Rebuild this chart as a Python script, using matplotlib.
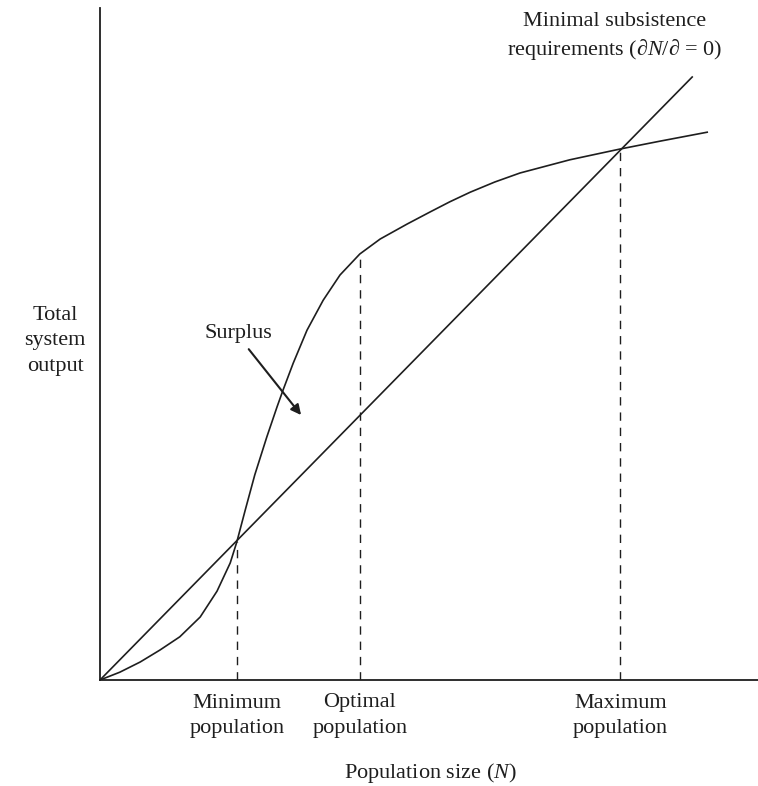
import matplotlib.pyplot as plt

plt.rcParams['font.family'] = ['Liberation Serif', 'DejaVu Serif']
plt.rcParams['mathtext.fontset'] = 'custom'
plt.rcParams['mathtext.rm'] = 'Liberation Serif'
plt.rcParams['mathtext.it'] = 'Liberation Serif:italic'

# curve: total system output vs population size
pop = [0.0, 0.33, 0.67, 1.0, 1.33, 1.67, 1.95, 2.17, 2.28, 2.42, 2.58, 2.78,
       2.95, 3.05, 3.22, 3.45, 3.72, 4.0, 4.33, 4.67, 5.12, 5.5, 5.83, 6.17,
       6.58, 7.0, 7.83, 8.67, 9.33, 10.12]
output = [0.0, 0.13, 0.3, 0.5, 0.72, 1.05, 1.48, 1.95, 2.3, 2.83, 3.42, 4.05,
          4.55, 4.83, 5.28, 5.83, 6.33, 6.75, 7.1, 7.35, 7.6, 7.8, 7.97, 8.13,
          8.3, 8.45, 8.67, 8.85, 8.98, 9.13]

# minimal subsistence requirement line
req_x = [0.0, 9.87]
req_y = [0.0, 10.05]

# marked populations
mark_x = [2.28, 4.33, 8.67]
mark_y = [2.3, 7.1, 8.85]
mark_labels = ["Minimum\npopulation", "Optimal\npopulation", "Maximum\npopulation"]

ink = "#1e1e1e"
fs = 16

fig = plt.figure(figsize=(7.58, 7.86), dpi=100)
ax = fig.add_axes([100 / 758, 106 / 786, 658 / 758, 672 / 786])
ax.set_xlim(0, 658 / 60)
ax.set_ylim(0, 672 / 60)

ax.plot(pop, output, color=ink, lw=1.2, solid_joinstyle="round")
ax.plot(req_x, req_y, color=ink, lw=1.2)

for x, y, lab in zip(mark_x, mark_y, mark_labels):
    ax.plot([x, x], [0, y], color=ink, lw=1.0, linestyle=(0, (6, 5)))
    ax.text(x, -0.6, lab, ha="center", va="center", fontsize=fs,
            color=ink, linespacing=1.5)

ax.annotate("", xy=(3.38, 4.38), xytext=(2.45, 5.55),
            arrowprops=dict(arrowstyle="-|>", color=ink, lw=1.5,
                            mutation_scale=15))
ax.text(2.3, 5.78, "Surplus", ha="center", va="center", fontsize=fs,
        color=ink)

ax.text(-0.75, 5.65, "Total\nsystem\noutput", ha="center", va="center",
        fontsize=fs, color=ink, linespacing=1.5)
ax.text(8.58, 10.72, "Minimal subsistence\nrequirements (\u2202$\\it{N}$/\u2202 = 0)",
        ha="center", va="center", fontsize=fs, color=ink, linespacing=1.35)
ax.text(5.5, -1.55, "Population size $\\it{(N)}$", ha="center", va="center",
        fontsize=fs, color=ink)

for side in ["top", "right"]:
    ax.spines[side].set_visible(False)
for side in ["left", "bottom"]:
    ax.spines[side].set_color(ink)
    ax.spines[side].set_linewidth(1.3)
ax.set_xticks([])
ax.set_yticks([])

plt.savefig("out.png", dpi=100)
plt.close()
